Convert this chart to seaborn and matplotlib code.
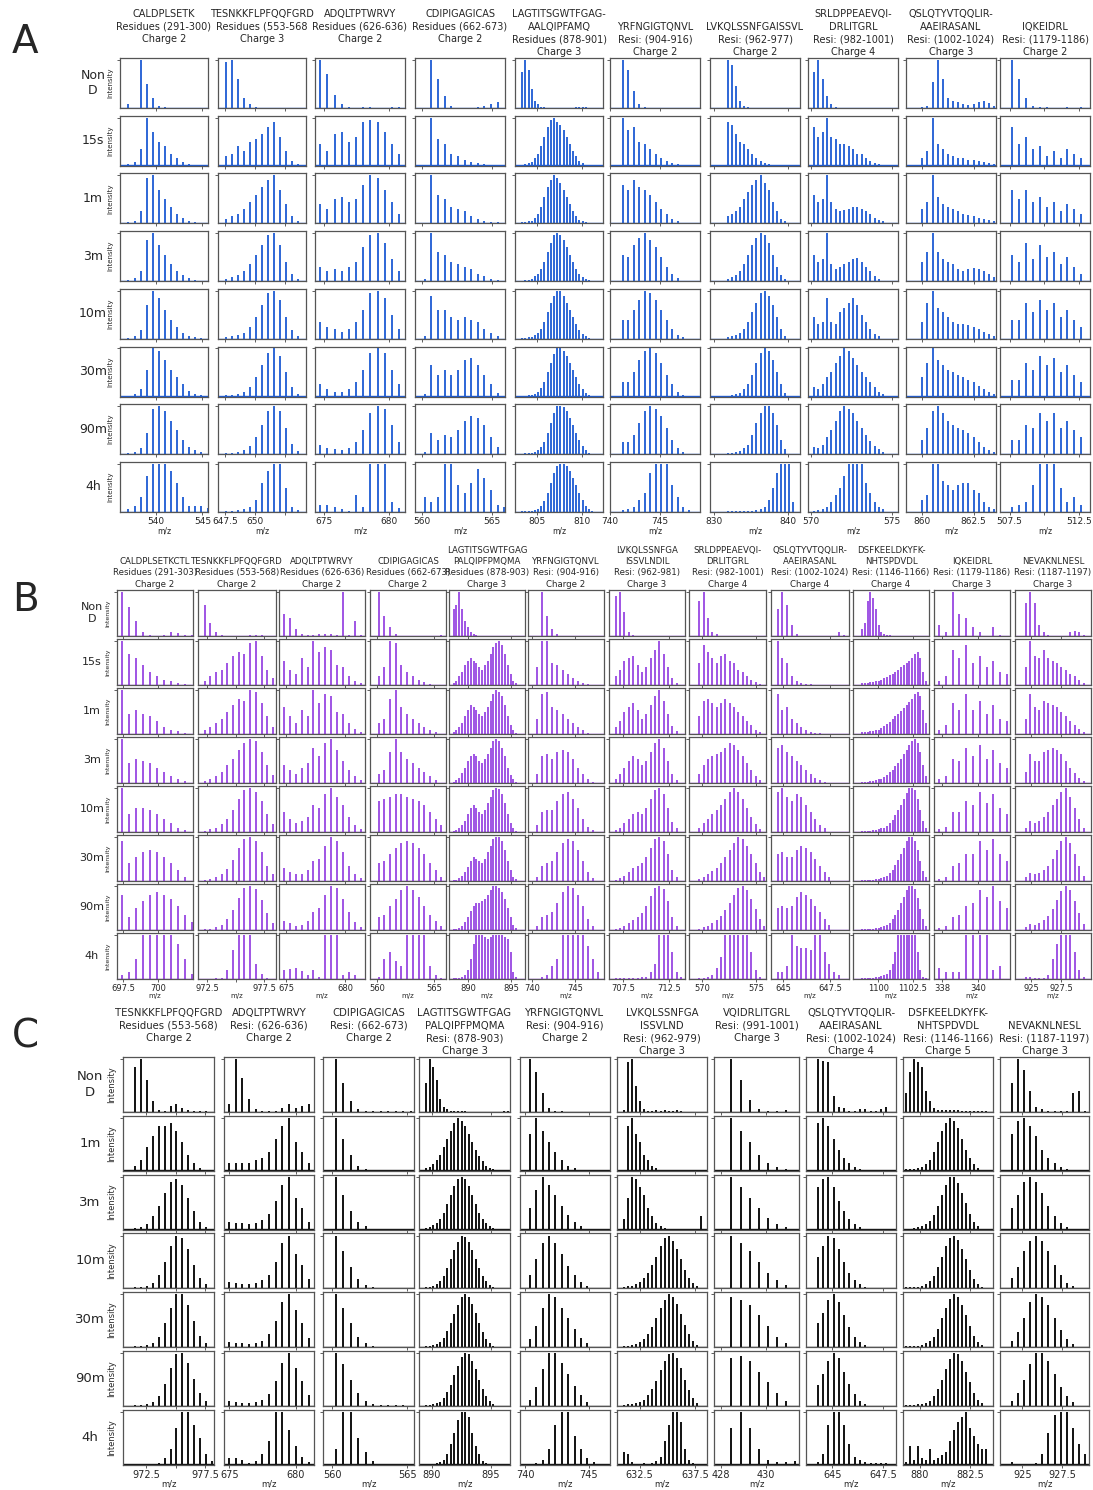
import numpy as np
import matplotlib
matplotlib.use("Agg")
import matplotlib.pyplot as plt
import seaborn as sns

sns.set_theme(style="ticks")
plt.rcParams['font.family'] = ['DejaVu Sans']

W, H = 1093, 1490

TIMES_AB = ["Non\nD", "15s", "1m", "3m", "10m", "30m", "90m", "4h"]
TIMES_C = ["Non\nD", "1m", "3m", "10m", "30m", "90m", "4h"]

# ---------------- panel A ----------------
A_TITLES = [
    "CALDPLSETK\nResidues (291-300)\nCharge 2\n ",
    "TESNKKFLPFQQFGRD\nResidues (553-568\nCharge 3\n ",
    "ADQLTPTWRVY\nResidues (626-636)\nCharge 2\n ",
    "CDIPIGAGICAS\nResidues (662-673)\nCharge 2\n ",
    "LAGTITSGWTFGAG-\nAALQIPFAMQ\nResidues (878-901)\nCharge 3",
    "YRFNGIGTQNVL\nResi: (904-916)\nCharge 2",
    "LVKQLSSNFGAISSVL\nResi: (962-977)\nCharge 2",
    "SRLDPPEAEVQI-\nDRLITGRL\nResi: (982-1001)\nCharge 4",
    "QSLQTYVTQQLIR-\nAAEIRASANL\nResi: (1002-1024)\nCharge 3",
    "IQKEIDRL\nResi: (1179-1186)\nCharge 2",
]
A_XLIM = [(536.2, 545.6), (646.9, 654.3), (674.3, 681.2), (559.5, 565.9), (802.6, 812.3),
          (740.0, 749.0), (829.5, 841.6), (569.8, 575.4), (859.2, 863.6), (506.8, 513.3)]
A_TICKS = [[540, 545], [647.5, 650, 652.5], [675, 680], [560, 565], [805, 810],
           [740, 745], [830, 840], [570, 575], [860, 862.5], [507.5, 510, 512.5]]
A_TICKLABELS = [["540", "545"], ["647.5", "650", ""], ["675", "680"], ["560", "565"], ["805", "810"],
                ["740", "745"], ["830", "840"], ["570", "575"], ["860", "862.5"], ["507.5", "", "512.5"]]
A_START = [537.1, 647.6, 674.7, 560.2, 803.4, 741.26, 831.9, 570.17, 860.0, 507.67]
A_STEP = [0.65, 0.5, 0.55, 0.47, 0.35, 0.55, 0.55, 0.27, 0.25, 0.5]

A01 = [[8, 0, 100, 50, 20, 5, 2, 1, 1, 0, 1, 0, 1, 0],
       [3, 8, 35, 100, 70, 50, 40, 25, 15, 8, 4, 2, 1],
       [2, 6, 25, 95, 100, 70, 50, 35, 20, 12, 6, 3, 1],
       [2, 6, 20, 85, 100, 75, 55, 35, 20, 12, 6, 3, 1],
       [2, 5, 18, 70, 100, 85, 60, 40, 25, 12, 6, 3, 1],
       [2, 5, 15, 55, 100, 95, 75, 55, 40, 25, 12, 6, 3],
       [2, 5, 12, 45, 95, 100, 90, 70, 50, 30, 15, 8, 4],
       [5, 12, 30, 75, 100, 100, 100, 85, 60, 30, 12, 12, 12, 8]]
A02 = [[95, 100, 60, 20, 8, 2, 0, 0, 0, 0, 0, 0, 1, 1, 1],
       [20, 25, 40, 30, 50, 55, 65, 80, 90, 60, 30, 10, 3],
       [10, 15, 20, 30, 45, 60, 75, 90, 100, 70, 40, 15, 5],
       [5, 8, 12, 20, 35, 55, 75, 95, 100, 75, 40, 15, 5],
       [3, 5, 8, 12, 25, 45, 70, 95, 100, 80, 45, 18, 5],
       [3, 4, 6, 10, 20, 40, 65, 90, 100, 85, 50, 20, 6],
       [2, 3, 5, 8, 18, 35, 60, 90, 100, 90, 55, 22, 6],
       [1, 2, 3, 5, 10, 25, 60, 85, 100, 100, 50, 10, 3]]
A03 = [[100, 70, 28, 8, 2, 1, 2, 2, 1, 1, 2, 3],
       [45, 30, 65, 70, 50, 60, 90, 95, 90, 70, 45, 25],
       [40, 30, 50, 55, 45, 50, 80, 100, 95, 70, 45, 20],
       [30, 20, 25, 20, 30, 40, 70, 95, 100, 80, 45, 20],
       [35, 25, 20, 15, 20, 35, 60, 95, 100, 85, 50, 20],
       [25, 15, 10, 10, 15, 30, 55, 90, 100, 90, 55, 25],
       [20, 12, 10, 8, 12, 25, 50, 85, 100, 95, 60, 25],
       [15, 14, 10, 5, 2, 35, 10, 100, 100, 100, 20, 8]]
A04 = [[0, 100, 60, 25, 5, 1, 1, 1, 3, 5, 8, 12],
       [0, 100, 55, 45, 25, 20, 12, 8, 5, 3, 2, 2],
       [0, 100, 60, 50, 35, 30, 25, 15, 10, 5, 3, 2],
       [5, 100, 60, 55, 40, 35, 30, 25, 15, 10, 5, 3],
       [5, 90, 60, 60, 45, 40, 45, 40, 35, 20, 12, 5],
       [5, 65, 45, 55, 45, 55, 75, 80, 65, 45, 25, 8],
       [5, 45, 30, 40, 35, 50, 70, 80, 75, 60, 35, 15],
       [30, 20, 30, 100, 100, 55, 40, 60, 90, 70, 45, 15, 10]]
A05 = [[75, 100, 80, 40, 15, 8, 3, 2, 1, 1, 1, 1, 1, 1, 1, 1, 1, 2, 3, 3, 2, 1],
       [2, 3, 5, 8, 15, 25, 40, 60, 80, 95, 100, 90, 85, 75, 60, 45, 30, 20, 10, 5, 2],
       [2, 3, 4, 6, 12, 20, 35, 55, 75, 90, 100, 95, 85, 70, 55, 40, 25, 15, 8, 4, 2],
       [1, 2, 3, 5, 10, 15, 25, 40, 60, 80, 95, 100, 95, 85, 70, 55, 40, 25, 15, 8, 4, 2],
       [1, 2, 3, 4, 8, 12, 20, 35, 55, 75, 90, 100, 100, 90, 75, 60, 45, 30, 18, 10, 5, 2],
       [1, 2, 3, 4, 6, 10, 18, 30, 50, 70, 88, 100, 100, 95, 85, 70, 55, 40, 25, 15, 8, 3],
       [1, 2, 2, 3, 5, 8, 15, 25, 45, 65, 85, 100, 100, 98, 90, 75, 60, 45, 30, 18, 8, 3],
       [1, 1, 2, 2, 4, 6, 12, 22, 40, 60, 80, 95, 100, 100, 95, 85, 70, 55, 40, 25, 12, 5, 2]]
A06 = [[100, 80, 35, 8, 2, 1, 0, 0, 0, 0, 0, 0, 1, 1, 1, 1],
       [100, 75, 80, 50, 45, 35, 25, 15, 10, 5, 3],
       [80, 70, 90, 75, 70, 60, 45, 30, 20, 10, 5],
       [55, 50, 75, 90, 100, 85, 70, 50, 30, 15, 6],
       [40, 40, 60, 80, 100, 95, 80, 60, 40, 20, 8, 3],
       [30, 30, 50, 75, 95, 100, 90, 70, 45, 25, 10, 4],
       [25, 25, 40, 65, 90, 100, 95, 80, 55, 30, 12, 5],
       [3, 5, 10, 25, 40, 80, 100, 100, 100, 55, 30, 10, 3]]
A07 = [[100, 90, 45, 15, 5, 2, 1],
       [90, 85, 65, 50, 45, 35, 25, 15, 10, 5, 3],
       [15, 20, 25, 35, 50, 65, 80, 90, 100, 85, 70, 45, 25, 10, 4],
       [5, 8, 12, 20, 35, 55, 75, 90, 100, 95, 80, 55, 30, 12, 4],
       [3, 5, 8, 12, 20, 35, 55, 75, 95, 100, 90, 70, 45, 20, 6],
       [2, 3, 5, 8, 15, 25, 45, 70, 90, 100, 95, 75, 50, 25, 8],
       [2, 3, 4, 6, 12, 20, 40, 65, 85, 100, 100, 85, 60, 30, 10],
       [1, 1, 1, 1, 1, 2, 2, 3, 5, 10, 25, 50, 80, 100, 100, 100, 20]]
A08 = [[75, 100, 60, 25, 8, 3, 1],
       [80, 60, 70, 100, 60, 55, 45, 45, 40, 35, 25, 25, 15, 10, 5, 3],
       [60, 45, 50, 100, 45, 30, 25, 28, 30, 35, 35, 30, 25, 20, 12, 8, 4],
       [55, 40, 45, 100, 35, 25, 30, 35, 40, 45, 48, 40, 30, 20, 10, 5],
       [45, 30, 35, 85, 35, 30, 55, 65, 75, 85, 70, 50, 35, 20, 10, 5],
       [20, 15, 25, 40, 50, 70, 85, 100, 95, 80, 65, 50, 40, 30, 20, 10, 5],
       [15, 12, 20, 35, 50, 70, 90, 100, 95, 85, 70, 55, 40, 28, 18, 10, 5],
       [2, 3, 5, 10, 20, 35, 50, 75, 100, 100, 100, 100, 60, 40, 20, 10, 5]]
A09 = [[3, 5, 55, 100, 60, 20, 15, 12, 8, 6, 8, 12, 14, 10, 5, 3],
       [15, 30, 100, 45, 35, 25, 20, 15, 15, 12, 12, 10, 8, 6, 4, 3],
       [30, 45, 100, 55, 40, 35, 30, 25, 20, 18, 15, 12, 10, 8, 5, 3],
       [40, 60, 100, 60, 45, 40, 35, 25, 20, 25, 28, 25, 20, 15, 8, 4],
       [35, 75, 100, 65, 55, 45, 35, 30, 30, 28, 25, 20, 15, 10, 5, 3],
       [40, 70, 100, 75, 65, 55, 50, 45, 40, 35, 30, 22, 15, 10, 5, 3],
       [30, 55, 90, 100, 85, 70, 60, 55, 50, 45, 35, 25, 15, 8, 4, 2],
       [25, 35, 100, 100, 65, 55, 45, 55, 60, 60, 45, 40, 20, 10, 5]]
A10 = [[100, 60, 20, 5, 2, 3, 1, 1, 3, 1, 2, 1],
       [80, 45, 60, 35, 40, 20, 30, 15, 35, 25, 15],
       [70, 50, 70, 45, 55, 35, 45, 25, 40, 30, 20],
       [55, 40, 80, 45, 75, 50, 60, 35, 50, 30, 15],
       [40, 40, 75, 55, 80, 60, 75, 45, 60, 40, 25],
       [35, 35, 70, 55, 85, 65, 80, 50, 65, 45, 30],
       [30, 30, 60, 55, 85, 70, 85, 55, 70, 50, 35],
       [10, 15, 20, 55, 100, 100, 100, 50, 20, 30, 15]]
A_SPECTRA = [A01, A02, A03, A04, A05, A06, A07, A08, A09, A10]

# ---------------- panel B ----------------
B_TITLES = [
    "CALDPLSETKCTL\nResidues (291-303)\nCharge 2",
    "TESNKKFLPFQQFGRD\nResidues (553-568)\nCharge 2",
    "ADQLTPTWRVY\nResidues (626-636)\nCharge 2",
    "CDIPIGAGICAS\nResidues (662-673)\nCharge 2",
    "LAGTITSGWTFGAG\nPALQIPFPMQMA\nResidues (878-903)\nCharge 3",
    "YRFNGIGTQNVL\nResi: (904-916)\nCharge 2",
    "LVKQLSSNFGA\nISSVLNDIL\nResi: (962-981)\nCharge 3",
    "SRLDPPEAEVQI-\nDRLITGRL\nResi: (982-1001)\nCharge 4",
    "QSLQTYVTQQLIR-\nAAEIRASANL\nResi: (1002-1024)\nCharge 4",
    "DSFKEELDKYFK-\nNHTSPDVDL\nResi: (1146-1166)\nCharge 4",
    "IQKEIDRL\nResi: (1179-1186)\nCharge 3",
    "NEVAKNLNESL\nResi: (1187-1197)\nCharge 3",
]
B_XLIM = [(697.07, 702.5), (971.7, 978.55), (674.4, 681.7), (559.4, 566.05), (887.8, 896.6),
          (739.5, 748.4), (706.0, 714.2), (568.8, 575.9), (644.35, 648.5), (1098.2, 1103.65),
          (337.55, 341.8), (923.65, 930.0)]
B_TICKS = [[697.5, 700], [972.5, 975, 977.5], [675, 680], [560, 565], [890, 895], [740, 745],
           [707.5, 712.5], [570, 575], [645, 647.5], [1100, 1102.5], [338, 340], [925, 927.5]]
B_TICKLABELS = [["697.5", "700"], ["972.5", "", "977.5"], ["675", "680"], ["560", "565"],
                ["890", "895"], ["740", "745"], ["707.5", "712.5"], ["570", "575"],
                ["645", "647.5"], ["1100", "1102.5"], ["338", "340"], ["925", "927.5"]]
B_START = [697.46, 972.28, 674.82, 560.15, 888.33, 740.55, 706.73, 569.75, 644.71, 1098.84, 337.83, 924.57]
B_STEP = [0.5, 0.5, 0.5, 0.5, 0.33, 0.6, 0.47, 0.4, 0.25, 0.2, 0.38, 0.37]

B01 = [[100, 65, 35, 10, 3, 1, 3, 8, 6, 3, 2],
       [100, 70, 60, 45, 30, 20, 12, 8, 5, 3],
       [100, 45, 55, 45, 40, 30, 15, 10, 6, 3],
       [100, 45, 55, 50, 45, 35, 25, 15, 8, 4],
       [100, 40, 55, 55, 50, 40, 30, 20, 10, 5],
       [90, 40, 55, 65, 70, 65, 55, 40, 25, 10],
       [80, 30, 50, 65, 80, 85, 80, 70, 55, 35, 18],
       [10, 15, 45, 100, 100, 100, 100, 100, 80, 45, 12]]
B02 = [[70, 30, 8, 2, 1, 1, 0, 1, 3, 3, 2, 1, 1],
       [10, 20, 30, 35, 50, 65, 75, 70, 95, 100, 65, 35, 15],
       [8, 15, 25, 35, 50, 65, 80, 75, 100, 95, 70, 40, 15],
       [5, 10, 15, 25, 40, 55, 75, 90, 100, 95, 70, 40, 18],
       [3, 6, 10, 18, 30, 50, 75, 95, 100, 90, 70, 40, 18],
       [2, 4, 8, 15, 28, 48, 75, 95, 100, 90, 65, 35, 15],
       [2, 3, 6, 12, 25, 45, 72, 95, 100, 92, 68, 38, 15],
       [0, 0, 2, 3, 20, 65, 100, 100, 100, 35, 12, 3]]
B03 = [[50, 40, 15, 5, 2, 3, 5, 5, 4, 3, 100, 2, 35, 3],
       [55, 35, 25, 60, 40, 100, 75, 85, 80, 45, 40, 20, 10, 5],
       [60, 40, 25, 55, 40, 100, 70, 90, 85, 50, 45, 25, 12, 5],
       [40, 30, 20, 35, 45, 80, 60, 90, 100, 75, 50, 30, 15, 6],
       [45, 30, 20, 25, 35, 60, 55, 85, 100, 80, 60, 35, 15, 6],
       [30, 20, 15, 15, 25, 45, 50, 80, 100, 90, 65, 35, 15, 6],
       [20, 15, 10, 12, 20, 40, 50, 80, 100, 95, 70, 40, 18, 6],
       [20, 22, 25, 18, 10, 20, 5, 100, 100, 100, 10, 15, 10]]
B04 = [[100, 45, 20, 5, 1, 1, 0, 0, 0, 0, 0, 3],
       [20, 40, 100, 95, 45, 30, 20, 12, 6, 3],
       [25, 35, 80, 100, 60, 45, 35, 25, 15, 8, 4],
       [20, 30, 70, 100, 70, 55, 45, 35, 25, 15, 6],
       [70, 75, 80, 85, 85, 80, 75, 70, 60, 45, 30, 15],
       [40, 45, 60, 75, 85, 90, 85, 75, 60, 40, 25, 10],
       [30, 35, 55, 70, 90, 100, 90, 75, 55, 35, 20, 8],
       [5, 45, 60, 40, 30, 100, 100, 100, 100, 30, 10, 3]]
B05 = [[60, 70, 100, 60, 35, 20, 8, 4, 2, 1, 1, 1, 1, 1, 1, 1],
       [5, 10, 20, 30, 45, 55, 60, 55, 50, 40, 35, 45, 55, 70, 85, 95, 100, 90, 70, 45, 25, 10, 4],
       [5, 8, 15, 25, 40, 55, 65, 60, 55, 45, 40, 50, 60, 75, 90, 100, 95, 85, 65, 40, 20, 8, 3],
       [3, 6, 12, 22, 35, 50, 60, 65, 60, 50, 45, 55, 65, 80, 95, 100, 95, 80, 60, 35, 18, 8, 3],
       [2, 4, 8, 15, 25, 40, 55, 60, 55, 45, 40, 50, 65, 80, 95, 100, 98, 85, 65, 40, 20, 8, 3],
       [2, 3, 6, 12, 20, 32, 45, 55, 50, 45, 40, 50, 65, 80, 95, 100, 100, 90, 70, 45, 25, 10, 4],
       [2, 3, 5, 10, 18, 30, 42, 55, 60, 62, 65, 70, 80, 90, 100, 100, 95, 85, 70, 50, 30, 12, 5],
       [2, 2, 3, 5, 10, 20, 45, 80, 100, 100, 100, 95, 90, 95, 100, 100, 100, 100, 95, 90, 60, 15, 5]]
B06 = [[0, 100, 45, 15, 5, 1, 1],
       [40, 100, 100, 50, 45, 35, 25, 15, 8, 4, 2],
       [35, 90, 95, 60, 55, 45, 35, 25, 15, 8, 3],
       [20, 60, 65, 55, 70, 75, 70, 55, 35, 20, 8, 3],
       [15, 45, 50, 50, 70, 85, 90, 75, 55, 30, 12, 4],
       [10, 35, 40, 45, 65, 85, 95, 90, 70, 45, 20, 6],
       [8, 30, 35, 40, 60, 85, 100, 95, 80, 55, 25, 8],
       [0, 5, 10, 30, 45, 100, 100, 100, 100, 100, 75, 45, 15]]
B07 = [[90, 100, 55, 8, 3, 1],
       [20, 35, 55, 60, 65, 45, 30, 40, 60, 80, 100, 70, 40, 15, 5],
       [15, 30, 50, 60, 70, 55, 35, 45, 65, 85, 100, 75, 45, 18, 6],
       [10, 20, 35, 50, 60, 55, 40, 50, 70, 90, 100, 80, 50, 20, 6],
       [5, 10, 20, 30, 40, 45, 40, 55, 75, 95, 100, 85, 55, 22, 8],
       [3, 6, 12, 20, 30, 35, 40, 55, 75, 95, 100, 90, 60, 25, 8],
       [2, 4, 8, 15, 22, 30, 38, 55, 78, 95, 100, 92, 65, 30, 10],
       [2, 2, 2, 2, 3, 3, 4, 5, 15, 35, 100, 100, 100, 60, 15, 4]]
B08 = [[80, 100, 40, 10, 4, 1],
       [50, 90, 75, 60, 50, 65, 70, 55, 50, 35, 30, 20, 12, 6, 3],
       [40, 75, 80, 70, 60, 70, 80, 70, 60, 50, 40, 30, 20, 10, 5],
       [20, 40, 55, 60, 65, 70, 80, 90, 85, 75, 60, 45, 30, 15, 6],
       [10, 20, 30, 40, 50, 60, 75, 90, 100, 90, 75, 55, 35, 18, 6],
       [5, 10, 15, 22, 30, 40, 55, 70, 85, 100, 95, 80, 60, 40, 20, 8],
       [3, 6, 10, 15, 22, 32, 45, 62, 80, 95, 100, 90, 70, 48, 25, 10],
       [2, 2, 5, 10, 25, 50, 100, 100, 100, 100, 100, 100, 60, 20, 5]]
B09 = [[60, 100, 70, 25, 5, 1, 0, 0, 0, 0, 0, 0, 1, 8, 2],
       [100, 60, 50, 20, 10, 5, 3, 2, 1, 1, 1, 1, 1],
       [90, 55, 60, 35, 25, 15, 10, 5, 3, 2],
       [80, 85, 70, 60, 50, 40, 30, 20, 12, 6, 3],
       [90, 100, 80, 70, 85, 80, 60, 45, 30, 15, 8],
       [60, 65, 55, 55, 70, 80, 75, 65, 50, 35, 20, 10],
       [50, 55, 50, 55, 75, 85, 80, 70, 55, 40, 25, 12],
       [15, 15, 30, 100, 75, 70, 70, 65, 100, 100, 60, 35, 15, 8]]
B10 = [[15, 30, 80, 100, 85, 60, 25, 10, 5, 3, 2, 1, 1, 1, 1, 1, 1, 1, 1, 1, 1, 1],
       [5, 5, 5, 6, 7, 8, 10, 12, 15, 18, 22, 26, 30, 35, 40, 45, 50, 55, 62, 70, 75, 60, 30, 10],
       [5, 5, 5, 6, 7, 8, 10, 14, 18, 22, 28, 34, 40, 45, 52, 58, 65, 72, 80, 90, 95, 85, 55, 25],
       [3, 3, 3, 4, 5, 6, 8, 10, 14, 18, 24, 30, 38, 46, 55, 65, 75, 85, 95, 100, 90, 70, 40, 15],
       [2, 2, 2, 3, 4, 5, 6, 8, 10, 14, 20, 28, 38, 50, 62, 75, 88, 100, 100, 95, 75, 50, 25, 10],
       [2, 2, 2, 3, 3, 4, 5, 6, 8, 12, 18, 26, 36, 48, 60, 75, 90, 100, 100, 90, 70, 45, 22, 8],
       [2, 2, 2, 3, 3, 4, 5, 6, 8, 12, 16, 24, 34, 46, 60, 75, 90, 100, 100, 92, 72, 48, 24, 9],
       [3, 3, 3, 3, 3, 4, 5, 6, 8, 12, 20, 35, 60, 100, 100, 100, 100, 100, 100, 100, 60, 20, 5, 2]]
B11 = [[25, 10, 100, 50, 40, 20, 8, 0, 20, 3],
       [10, 20, 80, 60, 90, 50, 65, 40, 55, 30, 25],
       [10, 20, 70, 55, 90, 55, 75, 45, 65, 35, 30],
       [8, 15, 55, 50, 80, 60, 85, 55, 75, 45, 35],
       [6, 12, 45, 45, 70, 60, 90, 65, 85, 55, 40],
       [5, 10, 35, 40, 60, 60, 90, 70, 95, 60, 45],
       [5, 8, 30, 35, 55, 60, 90, 75, 100, 65, 50],
       [25, 15, 15, 15, 100, 100, 100, 100, 20, 30]]
B12 = [[75, 100, 75, 25, 8, 2, 1, 0, 0, 0, 8, 12, 8, 2],
       [40, 100, 65, 60, 80, 60, 55, 50, 40, 35, 25, 20, 12, 5],
       [35, 90, 60, 55, 75, 70, 65, 60, 50, 40, 30, 20, 12, 5],
       [25, 65, 50, 50, 70, 75, 80, 75, 65, 50, 35, 22, 12, 5],
       [10, 25, 20, 25, 35, 45, 60, 75, 90, 100, 80, 55, 30, 10],
       [8, 18, 15, 18, 25, 35, 50, 70, 90, 100, 85, 60, 35, 12],
       [6, 14, 12, 15, 22, 32, 48, 68, 88, 100, 90, 65, 38, 14],
       [5, 5, 3, 3, 3, 10, 45, 80, 100, 100, 100, 60, 20, 5]]
B_SPECTRA = [B01, B02, B03, B04, B05, B06, B07, B08, B09, B10, B11, B12]

# ---------------- panel C ----------------
C_TITLES = [
    "TESNKKFLPFQQFGRD\nResidues (553-568)\nCharge 2\n ",
    "ADQLTPTWRVY\nResi: (626-636)\nCharge 2\n ",
    "CDIPIGAGICAS\nResi: (662-673)\nCharge 2\n ",
    "LAGTITSGWTFGAG\nPALQIPFPMQMA\nResi: (878-903)\nCharge 3",
    "YRFNGIGTQNVL\nResi: (904-916)\nCharge 2\n ",
    "LVKQLSSNFGA\nISSVLND\nResi: (962-979)\nCharge 3",
    "VQIDRLITGRL\nResi: (991-1001)\nCharge 3\n ",
    "QSLQTYVTQQLIR-\nAAEIRASANL\nResi: (1002-1024)\nCharge 4",
    "DSFKEELDKYFK-\nNHTSPDVDL\nResi: (1146-1166)\nCharge 5",
    "NEVAKNLNESL\nResi: (1187-1197)\nCharge 3",
]
C_XLIM = [(970.55, 978.25), (674.6, 681.35), (559.4, 565.45), (888.9, 896.6), (739.6, 746.65),
          (630.45, 638.6), (427.7, 431.45), (643.7, 648.15), (879.15, 883.65), (923.6, 929.2)]
C_TICKS = [[972.5, 975, 977.5], [675, 680], [560, 565], [890, 895], [740, 745],
           [632.5, 637.5], [428, 430], [645, 647.5], [880, 882.5], [925, 927.5]]
C_TICKLABELS = [["972.5", "", "977.5"], ["675", "680"], ["560", "565"], ["890", "895"], ["740", "745"],
                ["632.5", "637.5"], ["428", "430"], ["645", "647.5"], ["880", "882.5"], ["925", "927.5"]]
C_START = [971.57, 674.97, 560.25, 889.5, 740.38, 631.06, 428.47, 644.29, 879.32, 924.37]
C_STEP = [0.5, 0.5, 0.5, 0.3, 0.5, 0.37, 0.4, 0.26, 0.2, 0.38]

C01 = [[85, 100, 60, 20, 3, 2, 12, 15, 8, 3, 2, 1, 1],
       [10, 20, 45, 65, 85, 85, 90, 75, 55, 30, 15, 5],
       [3, 5, 10, 25, 45, 70, 90, 95, 85, 60, 35, 15, 5],
       [2, 3, 5, 10, 25, 50, 80, 100, 95, 75, 45, 20, 8],
       [2, 3, 4, 8, 20, 45, 75, 100, 100, 80, 50, 22, 8],
       [2, 2, 4, 8, 18, 42, 72, 98, 100, 82, 52, 24, 9],
       [1, 1, 2, 2, 3, 12, 30, 70, 100, 100, 75, 50, 20, 8]]
C02 = [[15, 100, 65, 25, 5, 1, 1, 2, 8, 15, 8, 12, 15],
       [15, 15, 15, 15, 20, 25, 35, 60, 85, 100, 55, 35, 15],
       [15, 12, 12, 10, 12, 18, 30, 55, 85, 100, 60, 40, 15],
       [12, 10, 8, 8, 10, 15, 25, 50, 85, 100, 65, 45, 18],
       [10, 8, 8, 6, 8, 12, 25, 50, 85, 100, 70, 45, 18],
       [10, 8, 6, 6, 8, 12, 22, 48, 82, 100, 72, 48, 20],
       [12, 12, 10, 4, 8, 20, 45, 100, 100, 65, 35, 15, 5]]
C03 = [[100, 55, 20, 5, 1, 1, 1, 1, 1, 1, 1],
       [100, 60, 30, 10, 4, 2, 1, 1, 1, 1],
       [100, 65, 35, 15, 6, 2, 1, 1, 1, 1],
       [100, 70, 40, 18, 7, 3, 1, 1, 1, 1],
       [100, 75, 45, 20, 8, 3, 1, 1, 1, 1],
       [100, 80, 50, 25, 10, 4, 2, 1, 1, 1],
       [30, 100, 100, 50, 25, 8, 2, 1]]
C04 = [[55, 100, 85, 60, 25, 10, 5, 2, 1, 1, 1, 1, 0, 0, 0, 0, 0, 0, 0, 0, 0, 0, 1, 1],
       [5, 8, 12, 20, 30, 45, 60, 75, 90, 100, 95, 85, 70, 55, 40, 28, 18, 10, 5, 3],
       [3, 5, 8, 12, 20, 32, 48, 65, 82, 95, 100, 95, 82, 65, 48, 32, 20, 12, 6, 3],
       [2, 3, 5, 8, 14, 24, 38, 55, 72, 88, 100, 98, 88, 72, 55, 38, 24, 14, 7, 3],
       [2, 2, 4, 6, 10, 18, 30, 45, 62, 80, 95, 100, 95, 82, 65, 45, 28, 16, 8, 3],
       [1, 2, 3, 5, 8, 15, 26, 40, 58, 76, 92, 100, 98, 86, 70, 50, 32, 18, 9, 4],
       [1, 2, 2, 3, 5, 10, 20, 40, 60, 85, 100, 100, 90, 60, 35, 20, 8, 3]]
C05 = [[100, 75, 35, 8, 2, 1],
       [70, 100, 75, 55, 35, 20, 10, 5, 2],
       [40, 75, 100, 85, 65, 45, 28, 15, 6, 2],
       [25, 55, 85, 100, 85, 65, 42, 25, 12, 5],
       [15, 40, 75, 100, 95, 75, 55, 35, 18, 7],
       [12, 35, 70, 100, 100, 82, 60, 38, 20, 8],
       [2, 3, 10, 30, 75, 100, 100, 55, 30, 12, 5]]
C06 = [[3, 95, 100, 50, 20, 5, 2, 1, 3, 1, 3, 1, 1, 3, 1],
       [0, 85, 100, 70, 55, 30, 20, 10, 5, 2],
       [20, 60, 100, 95, 80, 65, 40, 25, 12, 6, 3, 1, 1, 1, 1, 1, 1, 1, 1, 25],
       [3, 5, 5, 8, 12, 20, 30, 45, 60, 80, 95, 100, 90, 75, 55, 35, 20, 10, 4],
       [2, 3, 4, 6, 10, 15, 25, 38, 55, 75, 90, 100, 95, 82, 62, 42, 25, 12, 5],
       [2, 3, 3, 5, 8, 12, 20, 32, 48, 68, 85, 98, 100, 90, 72, 50, 30, 15, 6],
       [25, 20, 5, 0, 0, 3, 0, 3, 8, 15, 45, 75, 100, 100, 80, 30, 10, 3]]
C07 = [[100, 60, 22, 5, 1, 1, 3, 0],
       [100, 75, 55, 30, 15, 8, 3],
       [100, 80, 60, 40, 22, 10, 4],
       [100, 85, 70, 50, 30, 15, 6],
       [95, 90, 80, 60, 40, 20, 8],
       [90, 95, 85, 65, 45, 25, 10],
       [70, 100, 70, 30, 10, 5, 5, 8]]
C08 = [[100, 97, 95, 30, 10, 8, 2, 1, 5, 5, 1, 1, 5, 10],
       [90, 100, 85, 60, 40, 25, 15, 8, 4, 2],
       [80, 95, 100, 80, 55, 35, 20, 10, 5, 2],
       [60, 80, 100, 95, 75, 50, 30, 15, 8, 3],
       [45, 65, 90, 100, 85, 60, 38, 20, 10, 4],
       [40, 60, 85, 100, 90, 65, 42, 22, 10, 4],
       [5, 20, 75, 100, 100, 75, 40, 15, 10, 5, 3, 3, 3, 3]]
C09 = [[35, 75, 100, 95, 85, 40, 20, 8, 3, 3, 3, 4, 4, 3, 2, 2, 2, 2, 2, 2, 2],
       [3, 3, 3, 5, 8, 12, 20, 35, 55, 75, 90, 100, 95, 80, 60, 40, 25, 12, 5, 2],
       [2, 2, 3, 4, 6, 10, 16, 28, 45, 65, 85, 100, 100, 88, 70, 50, 30, 15, 6, 2],
       [2, 2, 2, 3, 5, 8, 14, 24, 40, 60, 80, 95, 100, 92, 75, 55, 35, 18, 8, 3],
       [2, 2, 2, 3, 4, 7, 12, 20, 35, 55, 75, 92, 100, 95, 80, 60, 40, 22, 10, 4],
       [2, 2, 2, 3, 4, 6, 10, 18, 32, 50, 70, 88, 100, 98, 85, 65, 45, 25, 12, 5],
       [5, 35, 10, 35, 12, 10, 30, 10, 12, 18, 25, 45, 65, 80, 90, 100, 70, 55, 40, 30, 30]]
C10 = [[55, 100, 80, 40, 10, 5, 2, 1, 1, 1, 35, 40, 2],
       [70, 95, 100, 85, 65, 40, 25, 15, 8, 3],
       [40, 65, 90, 100, 90, 70, 45, 25, 12, 5],
       [20, 40, 70, 90, 100, 90, 70, 45, 25, 10, 4],
       [12, 28, 55, 85, 100, 95, 80, 55, 32, 15, 6],
       [10, 25, 50, 80, 100, 100, 85, 60, 35, 18, 7],
       [5, 0, 0, 0, 3, 20, 60, 95, 100, 100, 70, 40, 20, 8]]
C_SPECTRA = [C01, C02, C03, C04, C05, C06, C07, C08, C09, C10]

# ---------------- layout (pixels of the 1093x1490 canvas) ----------------
A_COLS = [(120, 208), (218, 306), (315, 405), (415, 505), (515, 603),
          (610, 700), (710, 800), (808, 898), (906, 996), (1000, 1090)]
B_COLS = [(117, 193), (198, 276), (279, 365), (370, 446), (449, 525), (528, 604),
          (609, 685), (689, 766), (771, 849), (853, 929), (934, 1010), (1015, 1091)]
C_COLS = [(123, 214), (224, 314), (323, 414), (419, 510), (520, 610),
          (617, 707), (714, 799), (806, 896), (903, 993), (1000, 1089)]

fig = plt.figure(figsize=(W / 100, H / 100), dpi=100)


def draw_panel(titles, xlims, ticks, ticklabels, starts, steps, spectra, cols,
               top, pitch, height, times, color, lw, fs_title, fs_tick, fs_row, fs_int, row_dx):
    nrow = len(times)
    for j in range(len(titles)):
        x0, x1 = cols[j]
        for i in range(nrow):
            y0 = top + i * pitch
            ax = fig.add_axes([x0 / W, 1 - (y0 + height) / H, (x1 - x0) / W, height / H])
            vals = np.array(spectra[j][i], dtype=float)
            mz = starts[j] + steps[j] * np.arange(len(vals))
            keep = vals > 0
            ax.vlines(mz[keep], 0, vals[keep], color=color, lw=lw)
            ax.axhline(0.6, color=color, lw=1.0)
            ax.set_xlim(*xlims[j])
            ax.set_ylim(0, 104)
            ax.set_xticks(ticks[j])
            ax.set_yticks([100])
            ax.set_yticklabels([])
            ax.tick_params(axis='both', length=2.5, width=0.6, pad=1.2,
                           labelsize=fs_tick, color='#444444')
            for s in ax.spines.values():
                s.set_color('#555555')
                s.set_linewidth(0.9)
            if i == nrow - 1:
                ax.set_xticklabels(ticklabels[j])
                ax.set_xlabel('m/z', fontsize=fs_tick - 1, labelpad=0)
            else:
                ax.set_xticklabels([])
            if i == 0:
                ax.set_title(titles[j], fontsize=fs_title, pad=2.5, linespacing=1.3)
            if j == 0:
                ax.set_ylabel('Intensity', fontsize=fs_int, labelpad=1.0)
                fig.text((x0 - row_dx) / W, 1 - (y0 + height / 2) / H, times[i],
                         ha='center', va='center', fontsize=fs_row, linespacing=1.2)


draw_panel(A_TITLES, A_XLIM, A_TICKS, A_TICKLABELS, A_START, A_STEP, A_SPECTRA, A_COLS,
           58, 57.7, 50, TIMES_AB, '#1d5bd3', 1.3, 7.0, 6.5, 9, 5, 27)
draw_panel(B_TITLES, B_XLIM, B_TICKS, B_TICKLABELS, B_START, B_STEP, B_SPECTRA, B_COLS,
           590, 49, 46, TIMES_AB, '#8526dc', 1.1, 6.2, 6.0, 8, 4.5, 25)
draw_panel(C_TITLES, C_XLIM, C_TICKS, C_TICKLABELS, C_START, C_STEP, C_SPECTRA, C_COLS,
           1057, 58.8, 55, TIMES_C, '#111111', 1.4, 7.3, 7.0, 9.5, 6, 33)

fig.text(25 / W, 1 - 42 / H, 'A', fontsize=28, ha='center', va='center')
fig.text(25 / W, 1 - 600 / H, 'B', fontsize=28, ha='center', va='center')
fig.text(25 / W, 1 - 1037 / H, 'C', fontsize=28, ha='center', va='center')

fig.savefig('out.png', dpi=100)
